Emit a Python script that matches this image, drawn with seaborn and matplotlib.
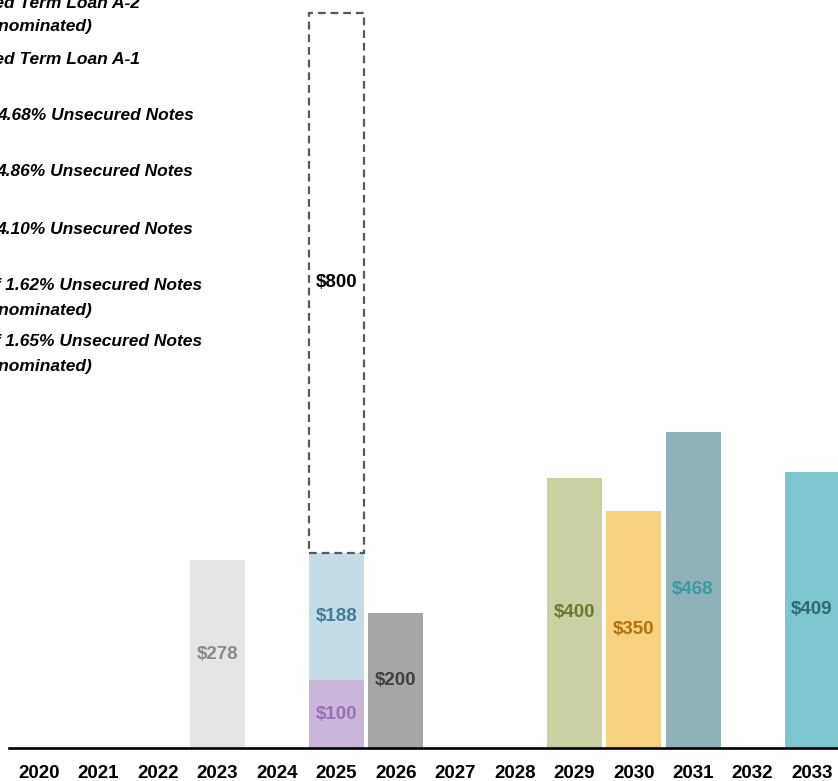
import pandas as pd
import numpy as np
import matplotlib.pyplot as plt
import seaborn as sns

# categories (x axis)
years = [str(y) for y in range(2020, 2034)]

# maturities, one row per bar segment (bottom to top)
maturity_years = ["2023", "2025", "2025", "2026", "2029", "2030", "2031", "2033"]
amounts = [278, 100, 188, 200, 400, 350, 468, 409]
bar_colors = ["#e5e5e5", "#c9b6d9", "#c5dce7", "#a6a6a6", "#c9d1a3", "#f6d280", "#8db3b8", "#7dc6cd"]
label_colors = ["#8a8a8a", "#9a70b8", "#3d7f9c", "#404040", "#6b7b2e", "#b4700f", "#3a9aa3", "#2f6a70"]

# undrawn facility shown as dashed outline on top of 2025
revolver_year = "2025"
revolver_amount = 800

# legend text (left, partly outside the crop)
legend_lines = ["Unsecured Term Loan A-2", "(Yen denominated)", "Unsecured Term Loan A-1",
                "4.68% Unsecured Notes", "4.86% Unsecured Notes", "4.10% Unsecured Notes",
                "of 1.62% Unsecured Notes", "(Yen denominated)",
                "of 1.65% Unsecured Notes", "(Yen denominated)"]
legend_y = [3, 27, 59, 116, 172, 229, 285, 310, 342, 367]
legend_right = [140, 92, 140, 194, 193, 193, 202, 92, 202, 92]

FONT = ["Liberation Sans", "DejaVu Sans"]
W, H = 838, 781

df = pd.DataFrame({"year": maturity_years, "amount": amounts,
                   "color": bar_colors, "label_color": label_colors})
df["top"] = df.groupby("year")["amount"].cumsum()
df["bottom"] = df["top"] - df["amount"]

fig = plt.figure(figsize=(W / 100, H / 100), dpi=100)
px_per_unit = 0.676
ax = fig.add_axes([9.3 / W, 33 / H, 59.46 * 14 / W, 748 / H])

# draw from the top of each stack downwards so lower segments cover upper ones
for level in sorted(df.groupby("year").cumcount().unique(), reverse=True):
    layer = df[df.groupby("year").cumcount() == level]
    sns.barplot(data=layer, x="year", y="top", hue="year", order=years,
                palette=dict(zip(layer["year"], layer["color"])), dodge=False,
                width=0.925, errorbar=None, legend=False, linewidth=0,
                saturation=1, ax=ax)

# dashed revolver box
rev_x = years.index(revolver_year)
rev_bottom = df.loc[df["year"] == revolver_year, "top"].max()
ax.bar(rev_x, revolver_amount, bottom=rev_bottom, width=0.925, fill=False,
       edgecolor="#5a5a5a", linewidth=1.6, linestyle=(0, (3.5, 2.2)), zorder=3)
ax.text(rev_x, rev_bottom + revolver_amount / 2, f"${revolver_amount}", ha="center", va="center",
        fontsize=13.5, fontweight="bold", color="black", family=FONT)

# value labels centred in each segment
for _, r in df.iterrows():
    ax.text(years.index(r["year"]), (r["bottom"] + r["top"]) / 2, f"${r['amount']}",
            ha="center", va="center", fontsize=13.5, fontweight="bold",
            color=r["label_color"], family=FONT, zorder=4)

ax.set_xlim(-0.5, len(years) - 0.5)
ax.set_ylim(0, 748 / px_per_unit)
for s in ["top", "right", "left"]:
    ax.spines[s].set_visible(False)
ax.spines["bottom"].set_linewidth(1.9)
ax.spines["bottom"].set_color("black")
ax.set_yticks([])
ax.set_xlabel("")
ax.set_ylabel("")
ax.tick_params(axis="x", length=0, pad=12)
for t in ax.get_xticklabels():
    t.set_fontweight("bold")
    t.set_fontsize(13.5)
    t.set_family(FONT)
    t.set_color("black")

for txt, y, xr in zip(legend_lines, legend_y, legend_right):
    fig.text(xr / W, 1 - y / H, txt, ha="right", va="center", fontsize=12.5,
             fontweight="bold", fontstyle="italic", family=FONT, color="black")

fig.savefig("out.png", dpi=100)
